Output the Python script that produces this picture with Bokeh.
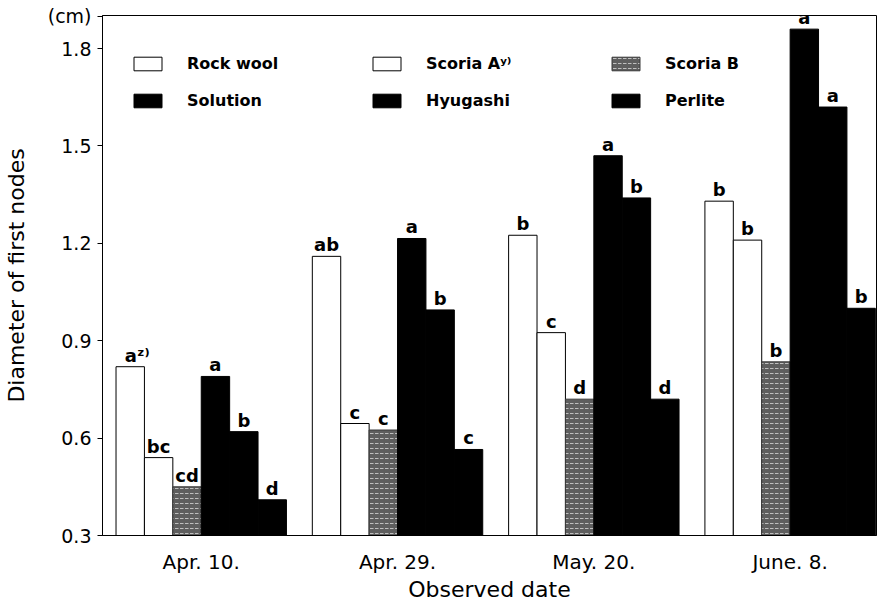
from bokeh.plotting import figure
from bokeh.models import Range1d, FixedTicker, NumeralTickFormatter, ColumnDataSource, Legend, LegendItem
from bokeh.core.properties import value
from bokeh.embed import file_html
from bokeh.resources import INLINE

# ---- data ----
dates = ["Apr. 10.", "Apr. 29.", "May. 20.", "June. 8."]
substrates = ["Rock wool", "Scoria A\u02b8\u207e", "Scoria B", "Solution", "Hyugashi", "Perlite"]
rock_wool = [0.82, 1.16, 1.225, 1.33]
scoria_a = [0.54, 0.645, 0.925, 1.21]
scoria_b = [0.45, 0.625, 0.72, 0.835]
solution = [0.79, 1.215, 1.47, 1.86]
hyugashi = [0.62, 0.995, 1.34, 1.62]
perlite = [0.41, 0.565, 0.72, 1.00]
rock_wool_sig = ["a\u1dbb\u207e", "ab", "b", "b"]
scoria_a_sig = ["bc", "c", "c", "b"]
scoria_b_sig = ["cd", "c", "d", "b"]
solution_sig = ["a", "a", "a", "a"]
hyugashi_sig = ["b", "b", "b", "a"]
perlite_sig = ["d", "c", "d", "b"]
y_ticks = [0.3, 0.6, 0.9, 1.2, 1.5, 1.8]
unit_label = "(cm)"
unit_pos = 1.9

series = [rock_wool, scoria_a, scoria_b, solution, hyugashi, perlite]
sigs = [rock_wool_sig, scoria_a_sig, scoria_b_sig, solution_sig, hyugashi_sig, perlite_sig]

FONT = "DejaVu Sans"
BASE = 0.3
BW = 0.1447

p = figure(width=880, height=604, output_backend="svg", toolbar_location=None,
           x_range=Range1d(-0.503, 3.44), y_range=Range1d(BASE, 1.902),
           min_border_left=99, min_border_right=4, min_border_top=15, min_border_bottom=60)
p.grid.visible = False
p.outline_line_color = "black"
p.outline_line_width = 1
p.background_fill_color = "white"
p.border_fill_color = "white"

styles = [
    dict(fill_color="white", line_color="black"),
    dict(fill_color="white", line_color="black"),
    dict(fill_color="#5e5e5e", line_color="#3a3a3a", hatch_pattern="horizontal_dash",
         hatch_color="white", hatch_alpha=0.6, hatch_scale=5, hatch_weight=1),
    dict(fill_color="black", line_color="black"),
    dict(fill_color="black", line_color="black"),
    dict(fill_color="black", line_color="black"),
]

items = []
for j, (vals, sig, st) in enumerate(zip(series, sigs, styles)):
    xs = [i + (j - 2.5) * BW for i in range(len(dates))]
    src = ColumnDataSource(dict(x=xs, top=vals, sig=sig,
                                xo=[7 if not s.isascii() else 0 for s in sig]))
    r = p.vbar(x="x", top="top", bottom=BASE, width=BW, source=src, line_width=1, **st)
    items.append(LegendItem(label=substrates[j], renderers=[r]))
    p.text(x="x", y="top", text="sig", source=src, x_offset="xo", y_offset=-1,
           text_align="center", text_baseline="bottom",
           text_font=value(FONT), text_font_size="18px", text_font_style="bold",
           text_color="black")

legend = Legend(items=items, orientation="horizontal", ncols=3,
                location=(28, 425), margin=0, padding=0,
                glyph_width=35, glyph_height=17, label_height=17, label_width=164,
                label_standoff=22, spacing=18,
                label_text_font=FONT, label_text_font_size="16px", label_text_font_style="bold",
                label_text_color="black",
                border_line_color=None, background_fill_alpha=0)
p.add_layout(legend, "center")

# axes
p.yaxis.ticker = FixedTicker(ticks=y_ticks + [unit_pos])
p.yaxis.formatter = NumeralTickFormatter(format="0.0")
p.yaxis.major_label_overrides = {unit_pos: unit_label}
p.yaxis.minor_tick_line_color = None
p.yaxis.major_tick_out = 5
p.yaxis.major_tick_in = 0
p.yaxis.major_label_standoff = 6
p.yaxis.major_label_text_font = FONT
p.yaxis.major_label_text_font_size = "19px"
p.yaxis.major_label_text_color = "black"
p.yaxis.axis_label = "Diameter of first nodes"
p.yaxis.axis_label_text_font = FONT
p.yaxis.axis_label_text_font_size = "22px"
p.yaxis.axis_label_text_font_style = "normal"
p.yaxis.axis_label_text_color = "black"
p.yaxis.axis_label_standoff = 16
p.yaxis.axis_line_color = "black"

p.xaxis.ticker = FixedTicker(ticks=list(range(len(dates))))
p.xaxis.major_label_overrides = {i: d for i, d in enumerate(dates)}
p.xaxis.major_tick_line_color = None
p.xaxis.minor_tick_line_color = None
p.xaxis.major_label_standoff = 8
p.xaxis.major_label_text_font = FONT
p.xaxis.major_label_text_font_size = "20px"
p.xaxis.major_label_text_color = "black"
p.xaxis.axis_label = "Observed date"
p.xaxis.axis_label_text_font = FONT
p.xaxis.axis_label_text_font_size = "22px"
p.xaxis.axis_label_text_font_style = "normal"
p.xaxis.axis_label_text_color = "black"
p.xaxis.axis_label_standoff = 0
p.xaxis.axis_line_color = "black"

open("out.html", "w").write(file_html(p, INLINE))
